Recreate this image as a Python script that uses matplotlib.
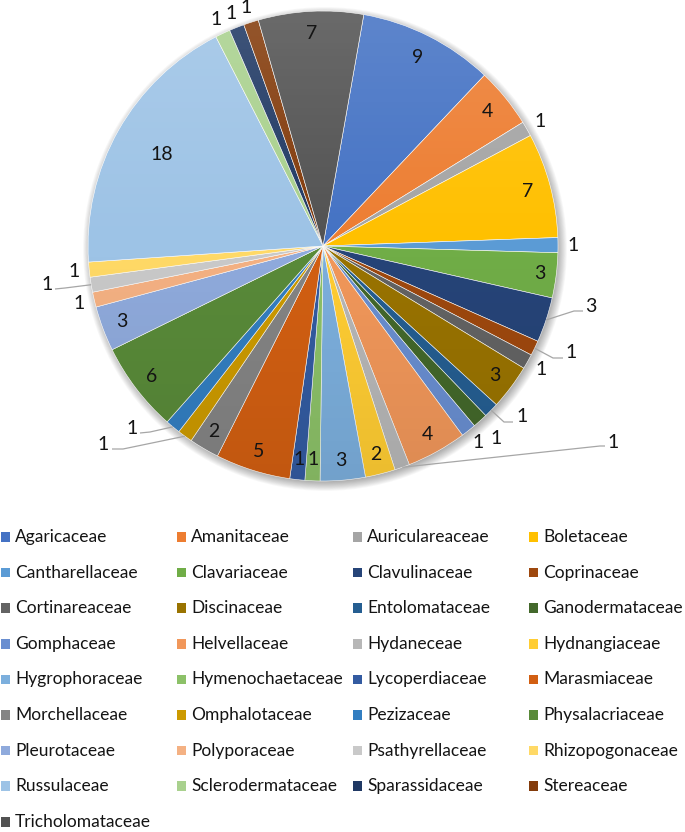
import numpy as np
import matplotlib.pyplot as plt
from matplotlib.patches import Circle, Rectangle

# fungal families and number of species in each
families = ['Agaricaceae', 'Amanitaceae', 'Auriculareaceae', 'Boletaceae',
            'Cantharellaceae', 'Clavariaceae', 'Clavulinaceae', 'Coprinaceae',
            'Cortinareaceae', 'Discinaceae', 'Entolomataceae', 'Ganodermataceae',
            'Gomphaceae', 'Helvellaceae', 'Hydaneceae', 'Hydnangiaceae',
            'Hygrophoraceae', 'Hymenochaetaceae', 'Lycoperdiaceae', 'Marasmiaceae',
            'Morchellaceae', 'Omphalotaceae', 'Pezizaceae', 'Physalacriaceae',
            'Pleurotaceae', 'Polyporaceae', 'Psathyrellaceae', 'Rhizopogonaceae',
            'Russulaceae', 'Sclerodermataceae', 'Sparassidaceae', 'Stereaceae',
            'Tricholomataceae']
counts = [9, 4, 1, 7, 1, 3, 3, 1, 1, 3, 1, 1, 1, 4, 1, 2, 3, 1, 1, 5, 2, 1, 1, 6,
          3, 1, 1, 1, 18, 1, 1, 1, 7]

# Office palette with its shade variations
colors = ['#4472C4', '#ED7D31', '#A5A5A5', '#FFC000', '#5B9BD5', '#70AD47',
          '#264478', '#9E480E', '#636363', '#997300', '#255E91', '#43682B',
          '#698ED0', '#F1975A', '#B7B7B7', '#FFCD33', '#7CAFDD', '#8CC168',
          '#335BA1', '#D25F12', '#848484', '#CC9A00', '#327EC1', '#598A39',
          '#8FAADC', '#F4B183', '#C9C9C9', '#FFD966', '#9DC3E6', '#A9D18E',
          '#203964', '#833B0B', '#525252']

W, H = 685, 832
CX, CY, R = 323, 246, 235          # pie centre and radius (pixels, from top)
FONT = 'Lato'
TXT = '#141414'
LEADER = '#A6A6A6'

# label radius as a fraction of R (default: inside for >1, outside for 1)
label_r = {0: 0.90, 1: 0.905, 3: 0.90, 5: 0.93, 11: 1.10, 17: 0.91, 18: 0.915,
           28: 0.79, 32: 0.905}
# labels pulled out with a leader line: text centre, elbow, end of line
leaders = {6: ((591, 306), (574, 311), (583, 311)),
           7: ((571, 352), (553, 358), (563, 358)),
           10: ((522, 417), (504, 422), (513, 422)),
           14: ((613, 442), (600, 446), (605, 446)),
           21: ((103, 444), (123, 449), (112, 449)),
           22: ((132, 428), (150, 432), (140, 433)),
           26: ((47, 284), (65, 288), (55, 289))}


def fy(y):
    return H - y


fig = plt.figure(figsize=(W / 100, H / 100), dpi=100)
ax = fig.add_axes([0, 0, 1, 1])

# soft drop shadow under the pie
for k in range(12):
    ax.add_patch(Circle((CX + 2, fy(CY + 3)), R - 3 + k * 0.9, color='black',
                        alpha=0.03, lw=0, zorder=0))

wedges, _ = ax.pie(counts, colors=colors, radius=R, center=(CX, fy(CY)),
                   startangle=80, counterclock=False,
                   wedgeprops=dict(linewidth=0.4, edgecolor='white'))
for w in wedges:
    w.set_zorder(1)

# light top-to-bottom shading over the pie
grad = np.zeros((200, 2, 4))
t = np.linspace(0, 1, 200)
grad[:, :, :3] = np.where(t < 0.5, 1.0, 0.0)[:, None, None]
grad[:, :, 3] = np.where(t < 0.5, 0.14 * (1 - 2 * t), 0.08 * (2 * t - 1))[:, None]
img = ax.imshow(grad, extent=[CX - R, CX + R, fy(CY + R), fy(CY - R)],
                interpolation='bilinear', zorder=2, aspect='auto')
img.set_clip_path(Circle((CX, fy(CY)), R, transform=ax.transData))

# data labels
lab_size = 14
for i, w in enumerate(wedges):
    if i in leaders:
        (tx, ty), (ex, ey), (hx, hy) = leaders[i]
        a = np.deg2rad((w.theta1 + w.theta2) / 2)
        sx, sy = CX + R * np.cos(a), CY - R * np.sin(a)
        ax.plot([sx, ex, hx], [fy(sy), fy(ey), fy(hy)], color=LEADER, lw=0.9,
                zorder=3, solid_capstyle='butt')
        ax.text(tx, fy(ty), str(counts[i]), ha='center', va='center',
                fontsize=lab_size, family=FONT, color=TXT, zorder=4)
        continue
    r = label_r.get(i, 0.915 if counts[i] > 1 else 1.065)
    a = np.deg2rad((w.theta1 + w.theta2) / 2)
    x, y = CX + r * R * np.cos(a), fy(CY) + r * R * np.sin(a)
    ax.text(x, y, str(counts[i]), ha='center', va='center',
            fontsize=lab_size, family=FONT, color=TXT, zorder=4)

# legend, four columns
sq = 9.5
for i, name in enumerate(families):
    col, row = i % 4, i // 4
    x0 = 1 + 176 * col
    yc = 537 + 35.6 * row
    ax.add_patch(Rectangle((x0, fy(yc) - sq / 2), sq, sq, color=colors[i],
                           lw=0, zorder=3))
    ax.text(x0 + 14, fy(yc), name, ha='left', va='center', fontsize=12.5,
            family=FONT, color=TXT)

ax.set_xlim(0, W)
ax.set_ylim(0, H)
ax.set_aspect('auto')
ax.axis('off')

fig.savefig('out.png', dpi=100)
